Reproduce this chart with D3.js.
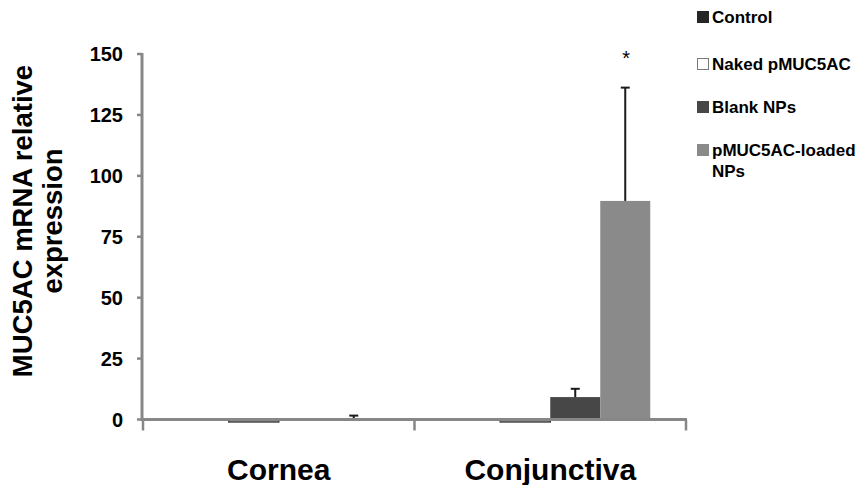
<!DOCTYPE html>
<html>
<head>
<meta charset="utf-8">
<script src="https://cdn.jsdelivr.net/npm/d3@7"></script>
<style>
  body { margin: 0; background: #fff; }
  text { font-family: "Liberation Sans", Arial, sans-serif; font-weight: bold; fill: #000; }
</style>
</head>
<body>
<svg id="chart" width="867" height="485"></svg>
<script>
// data
var categories = ["Cornea", "Conjunctiva"];
var seriesNames = ["Control", "Naked pMUC5AC", "Blank NPs", "pMUC5AC-loaded NPs"];
var controlValues = [0.5, 0.5];
var controlErrors = [0, 0];
var nakedValues = [-1, -1];
var nakedErrors = [0, 0];
var blankValues = [0.3, 9.2];
var blankErrors = [0, 3.4];
var loadedValues = [0.4, 89.7];
var loadedErrors = [1.2, 46.5];
var yTicks = [0, 25, 50, 75, 100, 125, 150];
var significant = [false, true];

var seriesColors = ["#262626", "#ffffff", "#474747", "#8a8a8a"];
var seriesStrokes = ["none", "#3a3a3a", "none", "none"];
var values = [controlValues, nakedValues, blankValues, loadedValues];
var errors = [controlErrors, nakedErrors, blankErrors, loadedErrors];

var svg = d3.select("#chart");

var y = d3.scaleLinear().domain([0, 150]).range([419.5, 54]);
var x = d3.scaleBand().domain(categories).range([143, 686]);
var xs = d3.scaleBand().domain(seriesNames).range([0, x.bandwidth()]).paddingInner(0).paddingOuter(0.715);

// bars
var groups = svg.selectAll("g.cat")
    .data(categories)
    .enter().append("g")
    .attr("class", "cat")
    .attr("transform", function(d) { return "translate(" + x(d) + ",0)"; });

groups.each(function(cat, ci) {
    var g = d3.select(this);
    seriesNames.forEach(function(s, si) {
        var v = values[si][ci];
        g.append("rect")
            .attr("x", xs(s))
            .attr("width", xs.bandwidth())
            .attr("y", Math.min(y(v), y(0)))
            .attr("height", Math.abs(y(v) - y(0)))
            .attr("fill", seriesColors[si])
            .attr("stroke", seriesStrokes[si])
            .attr("stroke-width", 1.5);
    });
});

// axes (drawn over the bar bases)
var axisColor = "#878787";
svg.append("line")
    .attr("x1", 142).attr("x2", 142)
    .attr("y1", y(150) - 1).attr("y2", y(0) + 1.5)
    .attr("stroke", axisColor).attr("stroke-width", 3);
svg.selectAll("line.ytick")
    .data(yTicks)
    .enter().append("line")
    .attr("class", "ytick")
    .attr("x1", 137).attr("x2", 142)
    .attr("y1", function(d) { return y(d); })
    .attr("y2", function(d) { return y(d); })
    .attr("stroke", axisColor).attr("stroke-width", 2.5);
svg.selectAll("text.ylab")
    .data(yTicks)
    .enter().append("text")
    .attr("class", "ylab")
    .attr("x", 123)
    .attr("y", function(d) { return y(d); })
    .attr("dy", "0.36em")
    .attr("text-anchor", "end")
    .style("font-size", "20px")
    .text(function(d) { return d; });

svg.append("line")
    .attr("x1", 141).attr("x2", 687)
    .attr("y1", y(0)).attr("y2", y(0))
    .attr("stroke", axisColor).attr("stroke-width", 3);
var xTickPos = x.domain().map(function(d) { return x(d); }).concat([x.range()[1]]);
svg.selectAll("line.xtick")
    .data(xTickPos)
    .enter().append("line")
    .attr("class", "xtick")
    .attr("x1", function(d) { return d; })
    .attr("x2", function(d) { return d; })
    .attr("y1", y(0)).attr("y2", y(0) + 11)
    .attr("stroke", axisColor).attr("stroke-width", 2.5);

// error bars (plus side only)
groups.each(function(cat, ci) {
    var g = d3.select(this);
    seriesNames.forEach(function(s, si) {
        var e = errors[si][ci];
        if (!e) return;
        var v = values[si][ci];
        var cx = xs(s) + xs.bandwidth() / 2;
        g.append("line")
            .attr("x1", cx).attr("x2", cx)
            .attr("y1", y(v)).attr("y2", y(v + e))
            .attr("stroke", "#1a1a1a").attr("stroke-width", 2);
        g.append("line")
            .attr("x1", cx - 4.5).attr("x2", cx + 4.5)
            .attr("y1", y(v + e)).attr("y2", y(v + e))
            .attr("stroke", "#1a1a1a").attr("stroke-width", 2);
        if (si === 3 && significant[ci]) {
            g.append("text")
                .attr("x", cx + 1)
                .attr("y", y(v + e) - 23)
                .attr("text-anchor", "middle")
                .style("font-size", "20px")
                .style("font-weight", "normal")
                .text("*");
        }
    });
});

// category labels
svg.selectAll("text.xlab")
    .data(categories)
    .enter().append("text")
    .attr("class", "xlab")
    .attr("x", function(d) { return x(d) + x.bandwidth() / 2; })
    .attr("y", 480)
    .attr("text-anchor", "middle")
    .style("font-size", "30px")
    .text(function(d) { return d; });

// y title
var yTitle = svg.append("text")
    .attr("transform", "translate(0,221) rotate(-90)")
    .attr("text-anchor", "middle")
    .style("font-size", "27.5px");
yTitle.append("tspan").attr("x", 0).attr("y", 32).text("MUC5AC mRNA relative");
yTitle.append("tspan").attr("x", 0).attr("y", 62).text("expression");

// legend
var legendY = [17, 64, 107, 150];
var legend = svg.selectAll("g.legend")
    .data(seriesNames)
    .enter().append("g")
    .attr("class", "legend")
    .attr("transform", function(d, i) { return "translate(697," + legendY[i] + ")"; });
legend.append("rect")
    .attr("x", 0.5).attr("y", -5.5)
    .attr("width", 11).attr("height", 11)
    .attr("fill", function(d, i) { return seriesColors[i]; })
    .attr("stroke", function(d, i) { return i === 1 ? "#7a7a7a" : seriesColors[i]; })
    .attr("stroke-width", 1);
legend.append("text")
    .attr("x", 15)
    .attr("y", 0)
    .attr("dy", "0.36em")
    .style("font-size", "17px")
    .each(function(d) {
        var t = d3.select(this);
        if (d === "pMUC5AC-loaded NPs") {
            t.append("tspan").attr("x", 15).text("pMUC5AC-loaded");
            t.append("tspan").attr("x", 15).attr("dy", "1.2em").text("NPs");
        } else {
            t.text(d);
        }
    });
</script>
</body>
</html>
